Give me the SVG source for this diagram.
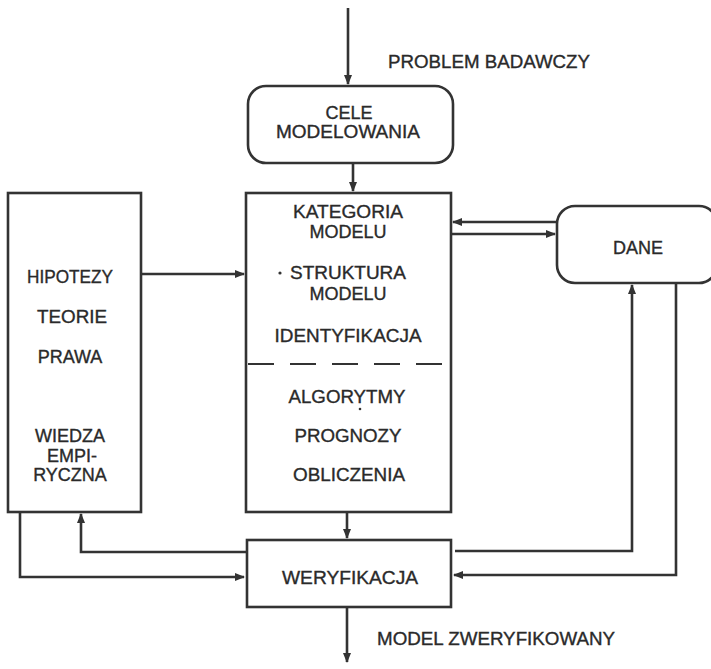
<svg xmlns="http://www.w3.org/2000/svg" width="711" height="669" viewBox="0 0 711 669">
<defs>
<marker id="ah" viewBox="0 0 10 8" refX="9" refY="4" markerWidth="10" markerHeight="8" markerUnits="userSpaceOnUse" orient="auto">
<path d="M0,0 L10,4 L0,8 z" fill="#333"/>
</marker>
<style>
.box{fill:#fff;stroke:#333;stroke-width:2.6}
.ln{fill:none;stroke:#333;stroke-width:2.6}
.t{font-family:"Liberation Sans",Arial,sans-serif;font-size:18px;fill:#2a2a2a;text-anchor:middle;stroke:#2a2a2a;stroke-width:0.35}
.lbl{font-family:"Liberation Sans",Arial,sans-serif;font-size:18px;fill:#2a2a2a;stroke:#2a2a2a;stroke-width:0.35}
</style>
</defs>
<rect width="711" height="669" fill="#fff"/>
<g id="connectors">
<path class="ln" d="M348,8 V84" marker-end="url(#ah)"/>
<path class="ln" d="M353,163 V191" marker-end="url(#ah)"/>
<path class="ln" d="M142,274 H244" marker-end="url(#ah)"/>
<path class="ln" d="M557,222 H453" marker-end="url(#ah)"/>
<path class="ln" d="M451,234 H555" marker-end="url(#ah)"/>
<path class="ln" d="M347,512 V538" marker-end="url(#ah)"/>
<path class="ln" d="M347,607 V662" marker-end="url(#ah)"/>
<path class="ln" d="M20,512 V577 H244" marker-end="url(#ah)"/>
<path class="ln" d="M246,552 H81 V514" marker-end="url(#ah)"/>
<path class="ln" d="M455,551 H632 V285" marker-end="url(#ah)"/>
<path class="ln" d="M676,283 V575 H454" marker-end="url(#ah)"/>
</g>
<g id="problem-label"><text class="lbl" x="388" y="68" textLength="202" lengthAdjust="spacingAndGlyphs">PROBLEM BADAWCZY</text></g>
<g id="cele">
<rect class="box" x="248" y="86" width="205" height="77" rx="18"/>
<text class="t" x="349" y="119">CELE</text>
<text class="t" x="348" y="138" textLength="144" lengthAdjust="spacingAndGlyphs">MODELOWANIA</text>
</g>
<g id="wiedza">
<rect class="box" x="8" y="193" width="133" height="319"/>
<text class="t" x="70" y="283" textLength="86" lengthAdjust="spacingAndGlyphs">HIPOTEZY</text>
<text class="t" x="72" y="323" textLength="70" lengthAdjust="spacingAndGlyphs">TEORIE</text>
<text class="t" x="70" y="363">PRAWA</text>
<text class="t" x="70" y="442">WIEDZA</text>
<text class="t" x="72" y="462">EMPI-</text>
<text class="t" x="70" y="481">RYCZNA</text>
</g>
<g id="model">
<rect class="box" x="246" y="193" width="205" height="319"/>
<text class="t" x="348" y="218" textLength="110" lengthAdjust="spacingAndGlyphs">KATEGORIA</text>
<text class="t" x="348" y="238">MODELU</text>
<circle cx="280" cy="273" r="1.6" fill="#333"/>
<text class="t" x="348" y="279" textLength="116" lengthAdjust="spacingAndGlyphs">STRUKTURA</text>
<text class="t" x="348" y="300">MODELU</text>
<text class="t" x="348" y="342" textLength="147" lengthAdjust="spacingAndGlyphs">IDENTYFIKACJA</text>
<line x1="248" y1="364" x2="449" y2="364" stroke="#333" stroke-width="2" stroke-dasharray="26,16"/>
<text class="t" x="347" y="403" textLength="117" lengthAdjust="spacingAndGlyphs">ALGORYTMY</text>
<circle cx="360" cy="409" r="1.3" fill="#333"/>
<text class="t" x="348" y="442" textLength="107" lengthAdjust="spacingAndGlyphs">PROGNOZY</text>
<text class="t" x="349" y="481" textLength="112" lengthAdjust="spacingAndGlyphs">OBLICZENIA</text>
</g>
<g id="dane">
<rect class="box" x="557" y="206" width="160" height="77" rx="18"/>
<text class="t" x="638" y="254">DANE</text>
</g>
<g id="weryfikacja">
<rect class="box" x="247" y="540" width="204" height="67"/>
<text class="t" x="350" y="584" textLength="136" lengthAdjust="spacingAndGlyphs">WERYFIKACJA</text>
</g>
<g id="result-label"><text class="lbl" x="377" y="645" textLength="238" lengthAdjust="spacingAndGlyphs">MODEL ZWERYFIKOWANY</text></g>
</svg>
